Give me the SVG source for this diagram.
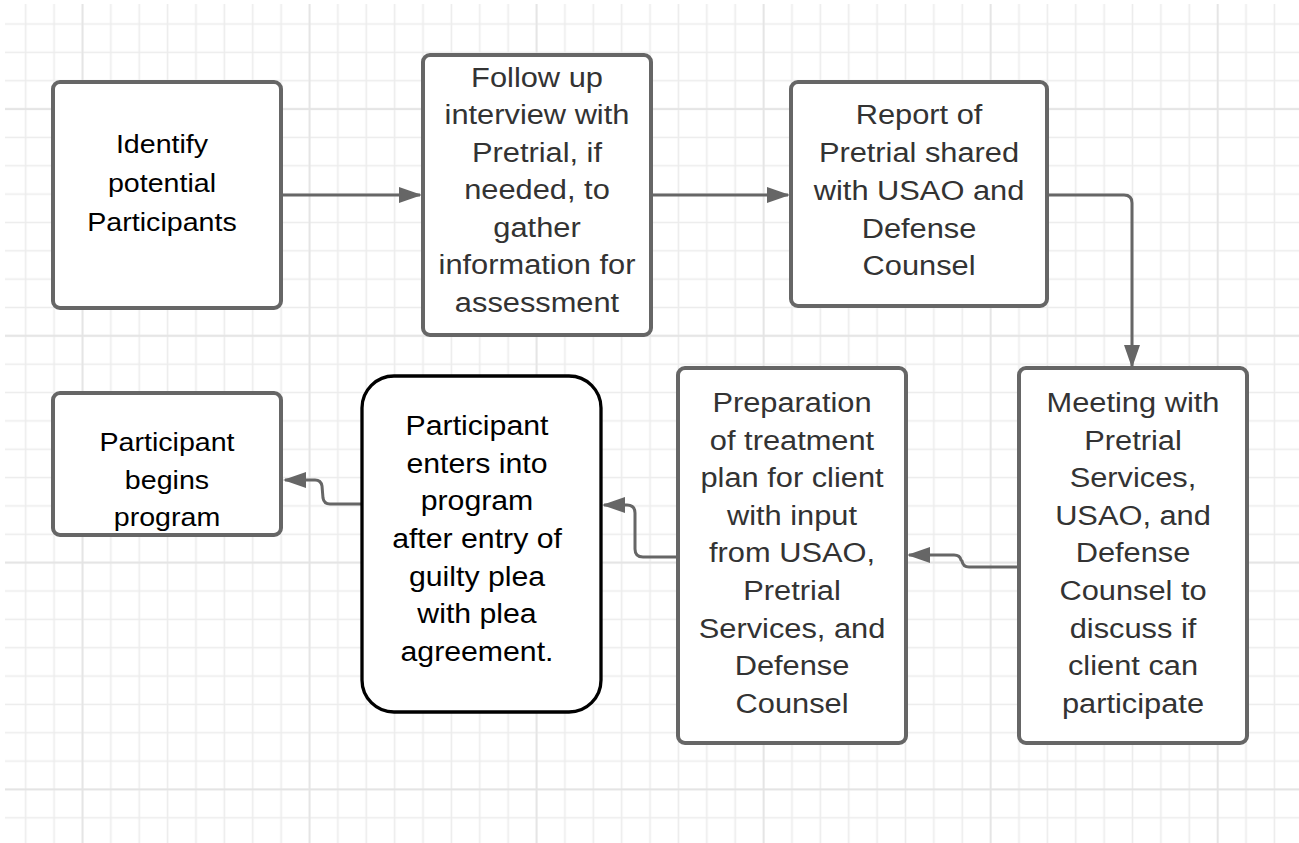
<svg xmlns="http://www.w3.org/2000/svg" width="1299" height="843" viewBox="0 0 1299 843">
<style>
.box{fill:#fff;stroke:#666;stroke-width:4}
.boxb{fill:#fff;stroke:#000;stroke-width:3.3}
text{font-family:"Liberation Sans",Arial,Helvetica,sans-serif;text-anchor:middle}
.t{font-size:28px;fill:#333}
.ts{font-size:26px;fill:#000}
.tb{font-size:27.5px;fill:#000}
.c{fill:none;stroke:#666;stroke-width:3;marker-end:url(#ah)}
</style>
<defs>
<pattern id="grid" patternUnits="userSpaceOnUse" x="11.51" y="9.825" width="28.38" height="28.35">
<path d="M14.19,0 V28.35 M0,14.175 H28.38" stroke="#ececec" stroke-width="1.6" fill="none"/>
</pattern>
<pattern id="grid8" patternUnits="userSpaceOnUse" x="0" y="0" width="227.04" height="226.8">
<path d="M82.46,0 V226.8 M0,109.05 H227.04" stroke="#e4e4e4" stroke-width="1.6" fill="none"/>
</pattern>
<marker id="ah" markerUnits="userSpaceOnUse" markerWidth="23" markerHeight="16" refX="21" refY="8" orient="auto">
<path d="M0,0 L23,8 L0,16 Z" fill="#666"/>
</marker>
</defs>
<rect x="0" y="0" width="1299" height="843" fill="#fff"/>
<rect x="5" y="4" width="1294" height="839" fill="url(#grid)"/>
<rect x="5" y="4" width="1294" height="839" fill="url(#grid8)"/>

<g id="connectors">
<path class="c" d="M281,195 H420"/>
<path class="c" d="M651,195 H788"/>
<path class="c" d="M1047,195 H1124 Q1132,195 1132,203 V366"/>
<path class="c" d="M1017,567 H969 Q963,567 962,561 L961,560 Q960,555 954,555 H909"/>
<path class="c" d="M678,557 H643 Q635,557 635,549 V513 Q635,505 627,505 H604"/>
<path class="c" d="M362,504 H330 Q324,504 323,498 L322,486 Q321,480 315,480 H285"/>
</g>

<g id="n1">
<rect class="box" x="53" y="82" width="228" height="226" rx="7"/>
<g transform="translate(162,0) scale(1.1,1)">
<text class="ts" x="0" y="153">Identify</text>
<text class="ts" x="0" y="192">potential</text>
<text class="ts" x="0" y="231">Participants</text>
</g>
</g>

<g id="n2">
<rect class="box" x="423" y="55" width="228" height="280" rx="7"/>
<g transform="translate(537,0) scale(1.1,1)">
<text class="t" x="0" y="87">Follow up</text>
<text class="t" x="0" y="124">interview with</text>
<text class="t" x="0" y="162">Pretrial, if</text>
<text class="t" x="0" y="199">needed, to</text>
<text class="t" x="0" y="237">gather</text>
<text class="t" x="0" y="274">information for</text>
<text class="t" x="0" y="312">assessment</text>
</g>
</g>

<g id="n3">
<rect class="box" x="791" y="82" width="256" height="224" rx="7"/>
<g transform="translate(919,0) scale(1.1,1)">
<text class="t" x="0" y="124">Report of</text>
<text class="t" x="0" y="162">Pretrial shared</text>
<text class="t" x="0" y="200">with USAO and</text>
<text class="t" x="0" y="238">Defense</text>
<text class="t" x="0" y="275">Counsel</text>
</g>
</g>

<g id="n4">
<rect class="box" x="1019" y="368" width="228" height="375" rx="7"/>
<g transform="translate(1133,0) scale(1.1,1)">
<text class="t" x="0" y="412">Meeting with</text>
<text class="t" x="0" y="450">Pretrial</text>
<text class="t" x="0" y="487">Services,</text>
<text class="t" x="0" y="525">USAO, and</text>
<text class="t" x="0" y="562">Defense</text>
<text class="t" x="0" y="600">Counsel to</text>
<text class="t" x="0" y="638">discuss if</text>
<text class="t" x="0" y="675">client can</text>
<text class="t" x="0" y="713">participate</text>
</g>
</g>

<g id="n5">
<rect class="box" x="678" y="368" width="228" height="375" rx="7"/>
<g transform="translate(792,0) scale(1.1,1)">
<text class="t" x="0" y="412">Preparation</text>
<text class="t" x="0" y="450">of treatment</text>
<text class="t" x="0" y="487">plan for client</text>
<text class="t" x="0" y="525">with input</text>
<text class="t" x="0" y="562">from USAO,</text>
<text class="t" x="0" y="600">Pretrial</text>
<text class="t" x="0" y="638">Services, and</text>
<text class="t" x="0" y="675">Defense</text>
<text class="t" x="0" y="713">Counsel</text>
</g>
</g>

<g id="n6">
<rect class="boxb" x="362" y="376" width="239" height="336" rx="32"/>
<g transform="translate(477,0) scale(1.1,1)">
<text class="tb" x="0" y="435">Participant</text>
<text class="tb" x="0" y="473">enters into</text>
<text class="tb" x="0" y="510">program</text>
<text class="tb" x="0" y="548">after entry of</text>
<text class="tb" x="0" y="586">guilty plea</text>
<text class="tb" x="0" y="623">with plea</text>
<text class="tb" x="0" y="661">agreement.</text>
</g>
</g>

<g id="n7">
<rect class="box" x="53" y="393" width="228" height="142" rx="7"/>
<g transform="translate(167,0) scale(1.1,1)">
<text class="ts" x="0" y="451">Participant</text>
<text class="ts" x="0" y="489">begins</text>
<text class="ts" x="0" y="526">program</text>
</g>
</g>
</svg>
